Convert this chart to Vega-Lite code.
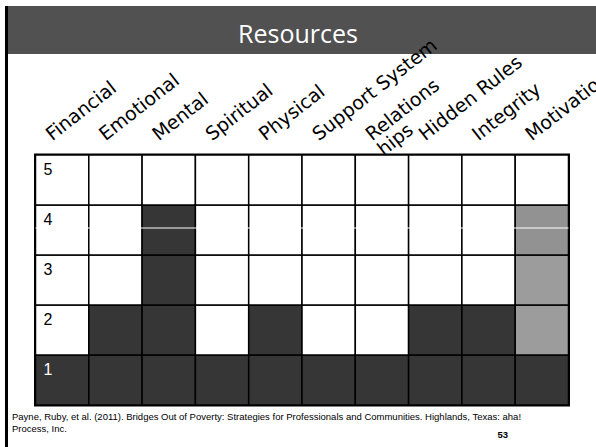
{
  "$schema": "https://vega.github.io/schema/vega-lite/v6.json",
  "background": "white",
  "padding": {"left": 5, "top": 6, "right": 0, "bottom": 0},
  "spacing": 0,
  "bounds": "flush",
  "hconcat": [
    {
      "width": 3,
      "height": 441,
      "view": {"fill": "#000000", "stroke": null},
      "data": {"values": [{"frame": ""}]},
      "mark": {"type": "text"},
      "encoding": {"text": {"field": "frame", "type": "nominal"}}
    },
    {
      "spacing": 101,
      "bounds": "flush",
      "center": true,
      "vconcat": [
        {
          "width": 588,
          "height": 48,
          "view": {"fill": "#515151", "stroke": null},
          "data": {"values": [{"heading": "Resources"}]},
          "mark": {"type": "text", "font": "Open Sans", "fontSize": 25, "color": "#ffffff", "baseline": "alphabetic", "align": "center", "dy": 13, "dx": -4},
          "encoding": {"text": {"field": "heading", "type": "nominal"}}
        },
        {
          "width": 533,
          "height": 250,
          "view": {"stroke": "#000000", "strokeWidth": 3},
          "data": {"values": [
            {"resource": "Financial", "level": 1, "state": "filled"},
            {"resource": "Financial", "level": 2, "state": "empty"},
            {"resource": "Financial", "level": 3, "state": "empty"},
            {"resource": "Financial", "level": 4, "state": "empty"},
            {"resource": "Financial", "level": 5, "state": "empty"},
            {"resource": "Emotional", "level": 1, "state": "filled"},
            {"resource": "Emotional", "level": 2, "state": "filled"},
            {"resource": "Emotional", "level": 3, "state": "empty"},
            {"resource": "Emotional", "level": 4, "state": "empty"},
            {"resource": "Emotional", "level": 5, "state": "empty"},
            {"resource": "Mental", "level": 1, "state": "filled"},
            {"resource": "Mental", "level": 2, "state": "filled"},
            {"resource": "Mental", "level": 3, "state": "filled"},
            {"resource": "Mental", "level": 4, "state": "filled"},
            {"resource": "Mental", "level": 5, "state": "empty"},
            {"resource": "Spiritual", "level": 1, "state": "filled"},
            {"resource": "Spiritual", "level": 2, "state": "empty"},
            {"resource": "Spiritual", "level": 3, "state": "empty"},
            {"resource": "Spiritual", "level": 4, "state": "empty"},
            {"resource": "Spiritual", "level": 5, "state": "empty"},
            {"resource": "Physical", "level": 1, "state": "filled"},
            {"resource": "Physical", "level": 2, "state": "filled"},
            {"resource": "Physical", "level": 3, "state": "empty"},
            {"resource": "Physical", "level": 4, "state": "empty"},
            {"resource": "Physical", "level": 5, "state": "empty"},
            {"resource": "Support System", "level": 1, "state": "filled"},
            {"resource": "Support System", "level": 2, "state": "empty"},
            {"resource": "Support System", "level": 3, "state": "empty"},
            {"resource": "Support System", "level": 4, "state": "empty"},
            {"resource": "Support System", "level": 5, "state": "empty"},
            {"resource": "Relationships", "level": 1, "state": "filled"},
            {"resource": "Relationships", "level": 2, "state": "empty"},
            {"resource": "Relationships", "level": 3, "state": "empty"},
            {"resource": "Relationships", "level": 4, "state": "empty"},
            {"resource": "Relationships", "level": 5, "state": "empty"},
            {"resource": "Hidden Rules", "level": 1, "state": "filled"},
            {"resource": "Hidden Rules", "level": 2, "state": "filled"},
            {"resource": "Hidden Rules", "level": 3, "state": "empty"},
            {"resource": "Hidden Rules", "level": 4, "state": "empty"},
            {"resource": "Hidden Rules", "level": 5, "state": "empty"},
            {"resource": "Integrity", "level": 1, "state": "filled"},
            {"resource": "Integrity", "level": 2, "state": "filled"},
            {"resource": "Integrity", "level": 3, "state": "empty"},
            {"resource": "Integrity", "level": 4, "state": "empty"},
            {"resource": "Integrity", "level": 5, "state": "empty"},
            {"resource": "Motivation", "level": 1, "state": "filled"},
            {"resource": "Motivation", "level": 2, "state": "partial"},
            {"resource": "Motivation", "level": 3, "state": "partial"},
            {"resource": "Motivation", "level": 4, "state": "partial-grid"},
            {"resource": "Motivation", "level": 5, "state": "empty"}
          ]},
          "title": {"text": "53", "orient": "bottom", "anchor": "start", "frame": "group", "dx": 462, "offset": -3, "font": "Liberation Sans", "fontSize": 9.5, "fontWeight": "bold", "color": "#000000", "baseline": "top"},
          "layer": [
            {
              "mark": {"type": "rect", "stroke": "#000000", "strokeWidth": 1.5},
              "encoding": {
                "x": {"field": "resource", "type": "nominal", "sort": null,
                  "scale": {"domain": ["Financial", "Emotional", "Mental", "Spiritual", "Physical", "Support System", "Relationships", "Hidden Rules", "Integrity", "Motivation"], "paddingInner": 0, "paddingOuter": 0},
                  "axis": {"orient": "top", "title": null, "domain": false, "ticks": false, "tickSize": 0, "grid": false,
                    "labelAngle": -38, "labelAlign": "left", "labelBaseline": "alphabetic", "labelPadding": 14, "labelOffset": -10,
                    "labelFont": "DejaVu Sans", "labelFontSize": 19, "labelColor": "#000000", "labelLimit": 0, "labelOverlap": false,
                    "labelLineHeight": 19, "zindex": 1,
                    "labelExpr": "datum.label == 'Relationships' ? ['Relations', 'hips'] : datum.label"}},
                "y": {"field": "level", "type": "ordinal", "scale": {"domain": [5, 4, 3, 2, 1], "paddingInner": 0, "paddingOuter": 0}, "axis": null},
                "fill": {"field": "state", "type": "nominal", "scale": {"domain": ["filled", "empty", "partial", "partial-grid"], "range": ["#363636", "#ffffff", "#9c9c9c", "#929292"]}, "legend": null}
              }
            },
            {
              "transform": [{"filter": "datum.resource == 'Financial' && datum.level == 4"}],
              "mark": {"type": "rule", "stroke": "#ffffff", "strokeWidth": 1},
              "encoding": {
                "y": {"field": "level", "type": "ordinal", "bandPosition": 0.46, "axis": null}
              }
            },
            {
              "transform": [{"filter": "datum.resource == 'Financial'"}],
              "mark": {"type": "text", "font": "Liberation Sans", "fontSize": 16, "align": "left", "baseline": "alphabetic", "dx": -18.6, "dy": -5},
              "encoding": {
                "x": {"field": "resource", "type": "nominal",
                  "axis": {"orient": "bottom", "labels": false, "ticks": false, "tickSize": 0, "domain": false, "grid": false,
                    "title": ["Payne, Ruby, et al.  (2011). Bridges Out of Poverty: Strategies for Professionals and Communities. Highlands, Texas: aha!", "Process, Inc."],
                    "titleFont": "Liberation Sans", "titleFontSize": 9.5, "titleFontWeight": "normal", "titleColor": "#000000",
                    "titleAnchor": "start", "titleAlign": "left", "titleBaseline": "top", "titlePadding": 6, "titleX": -24,
                    "titleLineHeight": 12, "titleLimit": 0}},
                "y": {"field": "level", "type": "ordinal", "axis": null},
                "text": {"field": "level", "type": "ordinal"},
                "color": {"condition": {"test": "datum.level == 1", "value": "#ffffff"}, "value": "#000000"}
              }
            }
          ]
        }
      ]
    }
  ]
}
